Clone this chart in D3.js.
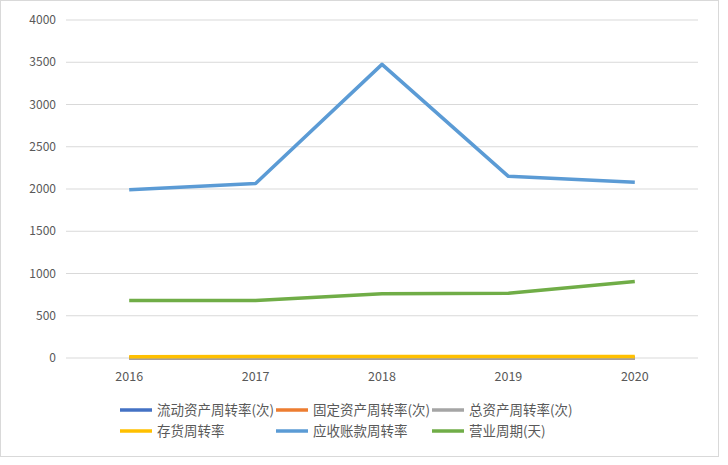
<!DOCTYPE html><html><head><meta charset="utf-8">
<script src="https://cdn.jsdelivr.net/npm/d3@7"></script>
<style>body{margin:0;background:#fff}text{font-family:"Noto Sans CJK SC","Noto Sans",sans-serif}</style></head><body>
<svg id="c" width="728" height="465"></svg>
<script>
const years=["2016","2017","2018","2019","2020"];
const seriesNames=["流动资产周转率(次)","固定资产周转率(次)","总资产周转率(次)","存货周转率","应收账款周转率","营业周期(天)"];
const colors=["#4472c4","#ed7d31","#a5a5a5","#ffc000","#5b9bd5","#70ad47"];
const s0=[1.2,1.1,1.3,1.2,1.1];
const s1=[3.5,3.2,3.8,3.6,3.4];
const s2=[0.8,0.7,0.9,0.8,0.8];
const s3=[16,17,18,17,18];
const s4=[1990,2065,3475,2150,2080];
const s5=[680,680,760,765,905];
const yTicks=[0,500,1000,1500,2000,2500,3000,3500,4000];
const data=[s0,s1,s2,s3,s4,s5];
const svg=d3.select("#c");
svg.append("rect").attr("x",0.5).attr("y",0.5).attr("width",718).attr("height",456).attr("fill","#fff").attr("stroke","#d9d9d9");
const x=d3.scaleBand().domain(years).range([66,698]);
const y=d3.scaleLinear().domain([0,4000]).range([358,20]);
const g=svg.append("g");
yTicks.forEach(t=>{g.append("line").attr("x1",66).attr("x2",698).attr("y1",y(t)).attr("y2",y(t)).attr("stroke","#d9d9d9").attr("stroke-width",1);
g.append("text").attr("x",56).attr("y",y(t)+4).attr("text-anchor","end").attr("font-size",12).attr("fill","#595959").text(t);});
years.forEach(yr=>g.append("text").attr("x",x(yr)+x.bandwidth()/2).attr("y",381).attr("text-anchor","middle").attr("font-size",12.5).attr("fill","#595959").text(yr));
const line=d3.line().x((d,i)=>x(years[i])+x.bandwidth()/2).y(d=>y(d));
data.forEach((d,i)=>g.append("path").attr("d",line(d)).attr("fill","none").attr("stroke",colors[i]).attr("stroke-width",3.5).attr("stroke-linejoin","round"));
const lx=[120,276,432], ly=[410,431];
seriesNames.forEach((n,i)=>{const cx=lx[i%3], cy=ly[Math.floor(i/3)];
svg.append("line").attr("x1",cx).attr("x2",cx+32).attr("y1",cy).attr("y2",cy).attr("stroke",colors[i]).attr("stroke-width",3.5);
svg.append("text").attr("x",cx+37).attr("y",cy+5).attr("font-size",13.5).attr("fill","#595959").text(n);});
</script></body></html>
